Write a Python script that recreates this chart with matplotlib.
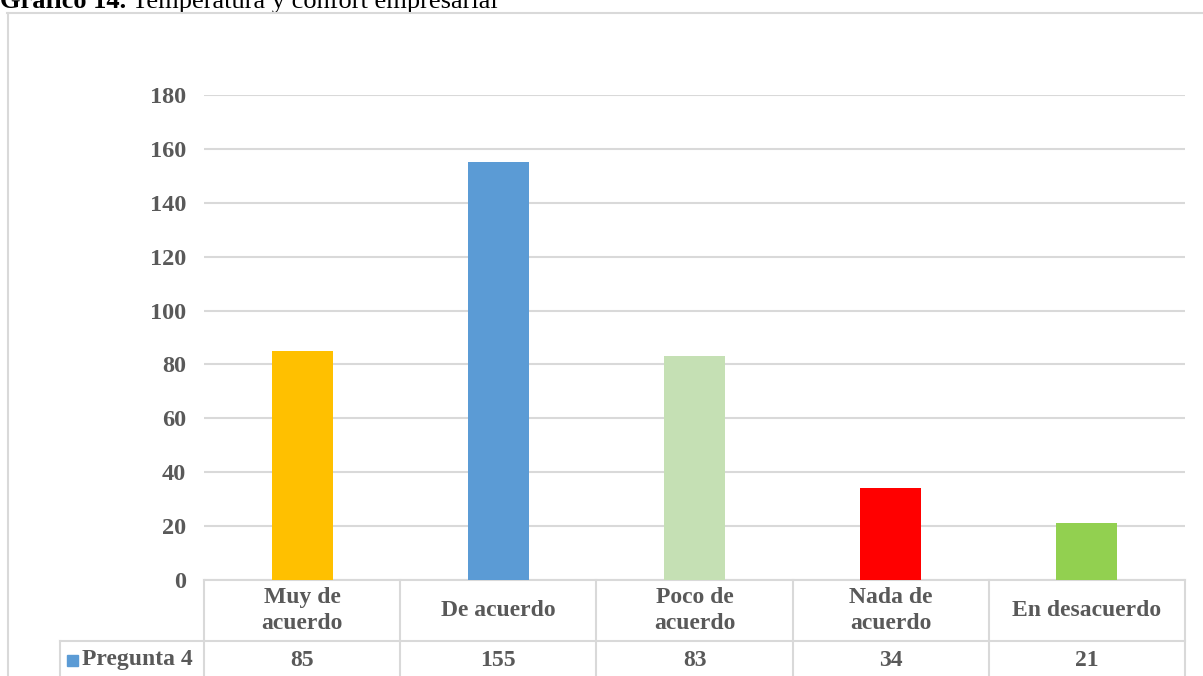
import numpy as np
import matplotlib.pyplot as plt
from matplotlib.lines import Line2D
from matplotlib.patches import Rectangle

categorias = ['Muy de\nacuerdo', 'De acuerdo', 'Poco de\nacuerdo', 'Nada de\nacuerdo', 'En desacuerdo']
valores = [85, 155, 83, 34, 21]
colores = ['#FFC000', '#5B9BD5', '#C5E0B4', '#FF0000', '#92D050']
serie = 'Pregunta 4'

plt.rcParams['font.family'] = ['Liberation Serif', 'DejaVu Serif']
gris = '#595959'
linea = '#d9d9d9'
fs = 17

W, H = 1203, 676
fig = plt.figure(figsize=(W / 100, H / 100), dpi=100)

# marco exterior
fig.add_artist(Line2D([7.5 / W, 7.5 / W], [0, 1 - 13 / H], color=linea, lw=1.5))
fig.add_artist(Line2D([7 / W, 1], [1 - 13 / H, 1 - 13 / H], color=linea, lw=1.5))

x0, x1 = 204, 1185
y0, y1 = 580, 95
ax = fig.add_axes([x0 / W, (H - y0) / H, (x1 - x0) / W, (y0 - y1) / H])

# titulo (cortado arriba como en el original)
t1 = fig.text(0.0, 1 - 8 / H, 'Gráfico 14.', fontsize=19, fontweight='bold', va='baseline')
ax.annotate(' Temperatura y confort empresarial', xy=(1, 0), xycoords=t1,
            ha='left', va='bottom', fontsize=19, annotation_clip=False)

x = np.arange(len(valores))
ax.bar(x, valores, width=0.31, color=colores, zorder=3)
ax.set_xlim(-0.5, len(valores) - 0.5)
ax.set_ylim(0, 180)
ax.set_yticks(np.arange(0, 181, 20))
ax.set_xticks([])
ax.grid(axis='y', color=linea, lw=1.5, zorder=0)
for s in ax.spines.values():
    s.set_visible(False)
ax.tick_params(axis='y', length=0, pad=13, labelsize=fs + 0.5, labelcolor=gris)
for lab in ax.get_yticklabels():
    lab.set_fontweight('bold')

# tabla de datos
tr = ax.get_xaxis_transform()
ph = y0 - y1
cw = (x1 - x0) / len(valores)
fila1 = -(641 - y0) / ph
fondo = -0.3
izq = -0.5 - (x0 - 60) / cw
kw = dict(color=linea, lw=1.5, transform=tr, clip_on=False)
ax.add_line(Line2D([-0.5, len(valores) - 0.5], [0, 0], **kw))
ax.add_line(Line2D([izq, len(valores) - 0.5], [fila1, fila1], **kw))
ax.add_line(Line2D([izq, izq], [fila1, fondo], **kw))
for b in np.arange(-0.5, len(valores), 1.0):
    ax.add_line(Line2D([b, b], [0, fondo], **kw))

txt = dict(transform=tr, ha='center', fontsize=fs, fontweight='bold', color=gris, clip_on=False)
for i, (c, v) in enumerate(zip(categorias, valores)):
    ax.text(i, fila1 / 2, c, va='center', linespacing=1.3, **txt)
    ax.text(i, fila1 - (660 - 641) / ph, str(v), va='center', **txt)

ax.add_patch(Rectangle((izq + 7 / cw, fila1 - 25 / ph), 11 / cw, 11 / ph,
                       transform=tr, color='#5B9BD5', clip_on=False))
ax.text(izq + 22 / cw, fila1 - (660 - 641) / ph, serie, transform=tr, ha='left', va='center',
        fontsize=fs, fontweight='bold', color=gris, clip_on=False)

fig.savefig('out.png', dpi=100)
